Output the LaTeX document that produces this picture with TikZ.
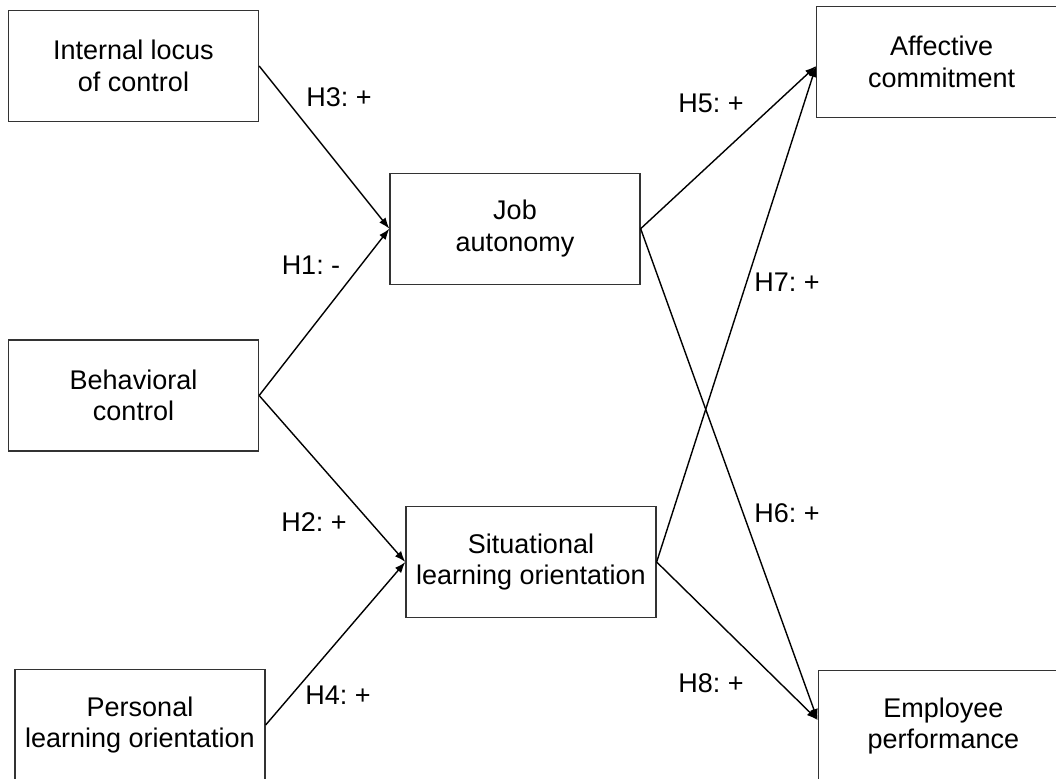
\documentclass[tikz,border=0pt]{standalone}
\usepackage{fontspec}
\setmainfont{Liberation Sans}
\usetikzlibrary{arrows.meta}
\frenchspacing
\tikzset{
  box/.style={draw=black!80, line width=1.3pt, minimum width=250pt, minimum height=111pt,
    inner sep=0pt, align=center, font=\fontsize{27}{31.5}\selectfont},
  lbl/.style={inner sep=0pt, font=\fontsize{27}{32}\selectfont},
  arr/.style={draw=black, line width=1.4pt, -{Latex[length=11pt,width=8pt]}}
}
\begin{document}
\begin{tikzpicture}[x=1pt,y=-1pt]
\useasboundingbox (0,0) rectangle (1056,778);
\node[box] (A) at (133.5,66) {Internal locus\\of control};
\node[box] (B) at (133.5,395.5) {Behavioral\\control};
\node[box] (C) at (140,725) {Personal\\learning orientation};
\node[box] (D) at (515,228.7) {Job\\autonomy};
\node[box] (E) at (531,562) {Situational\\learning orientation};
\node[box] (F) at (941.7,62) {Affective\\commitment};
\node[box] (G) at (943.3,726) {Employee\\performance};

\draw[arr] (A.east) -- (D.west);
\draw[arr] (B.east) -- (D.west);
\draw[arr] (B.east) -- (E.west);
\draw[arr] (C.east) -- (E.west);
\draw[arr] (D.east) -- ([yshift=-4pt]F.west);
\draw[arr] (D.east) -- ([yshift=6pt]G.west);
\draw[arr] (E.east) -- ([yshift=-4pt]F.west);
\draw[arr] (E.east) -- ([yshift=6pt]G.west);

\node[lbl] (l3) at (339,97) {H3: +};
\node[lbl] (l1) at (311,265) {H1: -};
\node[lbl] (l2) at (314,522) {H2: +};
\node[lbl] (l4) at (338,695) {H4: +};
\node[lbl] (l5) at (711,103) {H5: +};
\node[lbl] (l7) at (787,282) {H7: +};
\node[lbl] (l6) at (787,513) {H6: +};
\node[lbl] (l8) at (711,683) {H8: +};
\end{tikzpicture}
\end{document}
